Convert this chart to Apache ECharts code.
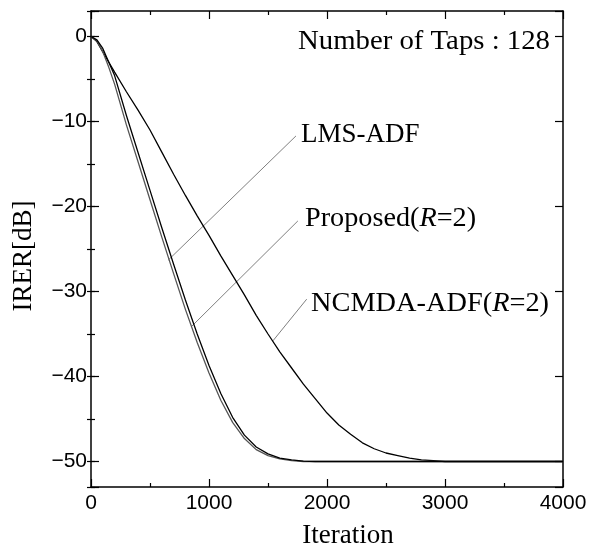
<!DOCTYPE html>
<html>
<head>
<meta charset="utf-8">
<script src="https://cdn.jsdelivr.net/npm/echarts@6/dist/echarts.min.js"></script>
<style>
html, body { margin: 0; padding: 0; background: #fff; }
#main { width: 590px; height: 554px; }
</style>
</head>
<body>
<div id="main"></div>
<script>
// iteration values (x)
var iterations = [0, 50, 100, 150, 200, 300, 400, 500, 600, 700, 800, 900, 1000,
	1100, 1200, 1300, 1400, 1500, 1600, 1700, 1800, 1900, 2000, 2100, 2200, 2300,
	2400, 2500, 2600, 2700, 2800, 2900, 3000, 3200, 3400, 3600, 3800, 4000];
// IRER [dB]
var lmsAdf = [0, -0.4, -1.4, -3.0, -4.6, -9.3, -13.7, -18.1, -22.5, -26.8, -31.0, -35.0, -38.7,
	-42.0, -44.8, -46.9, -48.3, -49.1, -49.6, -49.8, -49.95, -50, -50, -50, -50, -50,
	-50, -50, -50, -50, -50, -50, -50, -50, -50, -50, -50, -50];
var proposed = [0, -0.5, -1.8, -3.6, -5.6, -10.4, -14.8, -19.2, -23.6, -27.9, -32.1, -36.0, -39.6,
	-42.8, -45.4, -47.3, -48.6, -49.3, -49.7, -49.9, -50, -50, -50, -50, -50, -50,
	-50, -50, -50, -50, -50, -50, -50, -50, -50, -50, -50, -50];
var ncmdaAdf = [0, -0.6, -1.8, -3.0, -4.2, -6.5, -8.7, -11.0, -13.6, -16.2, -18.7, -21.1, -23.4,
	-25.8, -28.1, -30.4, -32.8, -35.0, -37.1, -39.0, -40.9, -42.6, -44.3, -45.7, -46.8, -47.8,
	-48.5, -49.0, -49.3, -49.6, -49.8, -49.9, -50, -50, -50, -50, -50, -50];

// leader lines: [point on curve, point near label] in data units
var lmsLeader = [[655, -26.3], [1737, -11.7]];
var proposedLeader = [[853, -34.1], [1753, -21.7]];
var ncmdaLeader = [[1542, -35.8], [1828, -30.9]];

function pairs(ys) {
	return iterations.map(function(x, i) { return [x, ys[i]]; });
}

var serif = '"Liberation Serif", "Times New Roman", serif';
var sans = '"Liberation Sans", Arial, sans-serif';

var frame = { show: true, onZero: false, lineStyle: { color: '#000', width: 1.5 } };

function xAx(pos, labels) {
	return {
		type: 'value', position: pos, min: 0, max: 4000, interval: 1000,
		axisLine: frame,
		axisTick: { inside: true, length: 8, lineStyle: { color: '#000', width: 1.2 } },
		minorTick: { show: true, splitNumber: 2, length: 4, lineStyle: { color: '#000', width: 1.2 } },
		splitLine: { show: false },
		axisLabel: {
			show: labels, color: '#000', fontFamily: sans, fontSize: 21, margin: 6,
			formatter: function(v) { return String(v); }
		}
	};
}
function yAx(pos, major) {
	return {
		type: 'value', position: pos, min: -53, max: 3, splitNumber: major ? 5 : 11,
		axisLine: major ? frame : { show: false },
		axisTick: { inside: true, length: major ? 8 : 4, lineStyle: { color: '#000', width: 1.2 } },
		splitLine: { show: false },
		axisLabel: {
			show: major && pos === 'left', color: '#000', fontFamily: sans, fontSize: 21, margin: 4,
			formatter: function(v) {
				if (v % 10 !== 0) return '';
				return v < 0 ? '\u2212' + (-v) : String(v);
			}
		}
	};
}

var xBottom = xAx('bottom', true);
xBottom.name = 'Iteration';
xBottom.nameLocation = 'middle';
xBottom.nameGap = 35;
xBottom.nameTextStyle = { color: '#000', fontFamily: serif, fontSize: 27, padding: [0, 0, 0, 42] };

var yLeft = yAx('left', true);
yLeft.name = 'IRER[dB]';
yLeft.nameLocation = 'middle';
yLeft.nameGap = 54;
yLeft.nameTextStyle = { color: '#000', fontFamily: serif, fontSize: 27, padding: [0, 14, 0, 0] };

function curve(name, ys, color) {
	return {
		name: name, type: 'line', data: pairs(ys), showSymbol: false, symbol: 'none',
		lineStyle: { color: color, width: 1.3 }, silent: true, z: 3
	};
}
function leader(pts) {
	return {
		type: 'line', data: pts, showSymbol: false, symbol: 'none',
		lineStyle: { color: '#808080', width: 1 }, silent: true, z: 2
	};
}

function richLabel(x, y, pre, scale) {
	return { type: 'text', x: x, y: y, scaleX: scale, style: {
		text: '{n|' + pre + '(}{i|R}{n|=2)}', textVerticalAlign: 'middle',
		rich: {
			n: { fill: '#000', fontFamily: serif, fontSize: 27 },
			i: { fill: '#000', fontFamily: serif, fontSize: 27, fontStyle: 'italic' }
		}
	} };
}

var option = {
	animation: false,
	backgroundColor: '#fff',
	grid: { left: 91, right: 27, top: 11, bottom: 66, containLabel: false },
	xAxis: [xBottom, xAx('top', false)],
	yAxis: [yLeft, yAx('left', false), yAx('right', true), yAx('right', false)],
	series: [
		curve('NCMDA-ADF(R=2)', ncmdaAdf, '#000'),
		curve('Proposed(R=2)', proposed, '#555'),
		curve('LMS-ADF', lmsAdf, '#000'),
		leader(lmsLeader),
		leader(proposedLeader),
		leader(ncmdaLeader)
	],
	graphic: [
		{ type: 'text', x: 298, y: 42, scaleX: 1.065, style: { text: 'Number of Taps : 128', fill: '#000', fontFamily: serif, fontSize: 27, textVerticalAlign: 'middle' } },
		{ type: 'text', x: 301, y: 135, style: { text: 'LMS-ADF', fill: '#000', fontFamily: serif, fontSize: 27, textVerticalAlign: 'middle' } },
		richLabel(305, 219, 'Proposed', 1.045),
		richLabel(311, 304, 'NCMDA-ADF', 1.05)
	]
};

var myChart = echarts.init(document.getElementById('main'));
myChart.setOption(option);
</script>
</body>
</html>
